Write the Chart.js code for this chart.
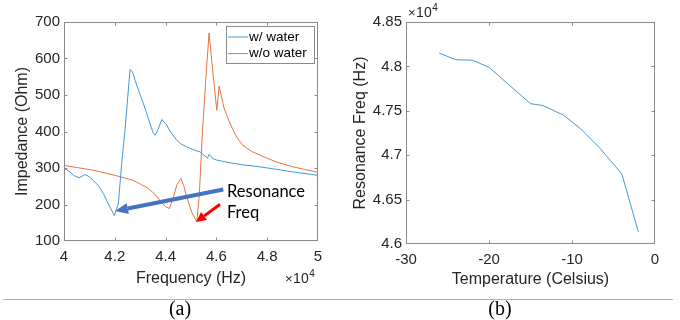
<!DOCTYPE html>
<html><head><meta charset="utf-8">
<script src="https://cdn.jsdelivr.net/npm/chart.js@4/dist/chart.umd.min.js"></script>
<style>
html,body{margin:0;padding:0;background:#fff;width:680px;height:320px;overflow:hidden;}
#c1{position:absolute;left:0;top:0;}
#c2{position:absolute;left:340px;top:0;}
#rule{position:absolute;left:3px;width:670px;top:299px;height:1px;background:#b4b4b4;}
.cap{position:absolute;top:298px;font-family:"Liberation Serif","Times New Roman",serif;font-size:20px;line-height:20px;color:#000;width:60px;text-align:center;}
</style></head>
<body>
<canvas id="c1" width="340" height="300"></canvas>
<canvas id="c2" width="340" height="300"></canvas>
<div id="rule"></div>
<div class="cap" style="left:150px">(a)</div>
<div class="cap" style="left:470px">(b)</div>
<script>
const FONT = '"Liberation Sans", Arial, sans-serif';

// ---- (a) impedance vs frequency ----
const freqWater = [40000, 40200, 40370, 40600, 40820, 41000, 41150, 41350, 41550, 41700, 41810, 41980, 42140, 42270, 42400, 42600, 42700, 42800, 43000, 43120, 43300, 43520, 43590, 43700, 43850, 44050, 44200, 44440, 44600, 44830, 45100, 45360, 45650, 45720, 45850, 46000, 46400, 47000, 47720, 48400, 49030, 50000];
const zWater    = [298,   292,   280,   273,   282,   276,   266,   252,   230,   208,   193,   170,   202,   312,   403,   570,   563,   540,   500,   478,   440,   394,   390,   405,   433,   417,   398,   376,   366,   358,   350,   344,   327,   338,   326,   322,   316,   309,   303,   296,   289,   280];
const freqDry = [40000, 41150, 42000, 42730, 43300, 43580, 43780, 44000, 44150, 44310, 44450, 44600, 44700, 44830, 45030, 45230, 45330, 45450, 45580, 45710, 45860, 46016, 46107, 46200, 46300, 46410, 46500, 46650, 46800, 47000, 47200, 47400, 47720, 48380, 49030, 50000];
const zDry    = [307,   294,   280,   266,   245,   228,   211,   194,   189,   221,   255,   271,   255,   221,   179,   152,   230,   400,   540,   670,   563,   458,   524,   495,   465,   444,   428,   405,   385,   365,   354,   345,   335,   316,   303,   288];
const seriesNames = ['w/ water', 'w/o water'];
const freqTickLabels = ['4', '4.2', '4.4', '4.6', '4.8', '5'];
const zTickLabels = ['100', '200', '300', '400', '500', '600', '700'];

// annotation anchors in data units (Hz, Ohm)
const blueArrow = {from: [46272, 241], to: [42008, 182]};
const redArrow  = {from: [46142, 200.5], to: [45197, 152]};
const noteText  = [{t: 'Resonance', at: [46417, 234]}, {t: 'Freq', at: [46417, 177]}];

// ---- (b) resonance freq vs temperature ----
const tempC   = [-26,   -24,   -22,   -20,   -15,   -13.5, -11,   -9,    -6.7,  -4,    -2];
const resFreq = [48150, 48075, 48070, 47990, 47580, 47560, 47450, 47300, 47085, 46790, 46135];
const tempTickLabels = ['-30', '-20', '-10', '0'];
const rfTickLabels = ['4.6', '4.65', '4.7', '4.75', '4.8', '4.85'];

const pts = (xs, ys) => xs.map((x, i) => ({x, y: ys[i]}));

function drawArrow(ctx, x1, y1, x2, y2, color, w, hl, hw) {
  const ang = Math.atan2(y2 - y1, x2 - x1);
  const bx = x2 - hl * Math.cos(ang), by = y2 - hl * Math.sin(ang);
  ctx.strokeStyle = color; ctx.fillStyle = color; ctx.lineWidth = w; ctx.lineCap = 'butt';
  ctx.beginPath(); ctx.moveTo(x1, y1); ctx.lineTo(bx, by); ctx.stroke();
  ctx.beginPath();
  ctx.moveTo(x2, y2);
  ctx.lineTo(bx + hw / 2 * Math.sin(ang), by - hw / 2 * Math.cos(ang));
  ctx.lineTo(bx - hw / 2 * Math.sin(ang), by + hw / 2 * Math.cos(ang));
  ctx.closePath(); ctx.fill();
}

const matPlugin = {
  id: 'mat',
  afterDatasetsDraw(chart, args, o) {
    const ctx = chart.ctx, xs = chart.scales.x, ys = chart.scales.y;
    ctx.save();
    if (o.arrows) {
      for (const ar of o.arrows) {
        drawArrow(ctx, xs.getPixelForValue(ar.from[0]), ys.getPixelForValue(ar.from[1]),
          xs.getPixelForValue(ar.to[0]), ys.getPixelForValue(ar.to[1]), ar.color, ar.w, ar.hl, ar.hw);
      }
    }
    if (o.notes) {
      ctx.font = '16.5px Lato, "Open Sans", sans-serif';
      ctx.fillStyle = '#000'; ctx.textAlign = 'left'; ctx.textBaseline = 'middle';
      for (const n of o.notes) ctx.fillText(n.t, xs.getPixelForValue(n.at[0]), ys.getPixelForValue(n.at[1]));
    }
    ctx.restore();
  },
  afterDraw(chart, args, o) {
    const ctx = chart.ctx, a = chart.chartArea, xs = chart.scales.x, ys = chart.scales.y;
    ctx.save();
    const L = Math.round(a.left) + 0.5, R = Math.round(a.right) - 0.5, T = Math.round(a.top) + 0.5, B = Math.round(a.bottom) - 0.5;
    ctx.strokeStyle = '#8a8a8a'; ctx.lineWidth = 1;
    ctx.strokeRect(L, T, R - L, B - T);
    ctx.beginPath();
    xs.ticks.forEach(t => {
      const p = Math.round(xs.getPixelForValue(t.value)) + 0.5;
      if (p < L + 2 || p > R - 2) return;
      ctx.moveTo(p, B); ctx.lineTo(p, B - 3);
      ctx.moveTo(p, T); ctx.lineTo(p, T + 3);
    });
    ys.ticks.forEach(t => {
      const p = Math.round(ys.getPixelForValue(t.value)) + 0.5;
      if (p < T + 2 || p > B - 2) return;
      ctx.moveTo(L, p); ctx.lineTo(L + 3, p);
      ctx.moveTo(R, p); ctx.lineTo(R - 3, p);
    });
    ctx.stroke();
    if (o.exp) {
      ctx.fillStyle = '#262626'; ctx.textAlign = 'left'; ctx.textBaseline = 'middle';
      ctx.font = '13px ' + FONT;
      let x = o.exp.x;
      ctx.fillText('\u00d7', x, o.exp.y); x += ctx.measureText('\u00d7').width + 0.5;
      ctx.font = '14px ' + FONT;
      ctx.fillText('10', x, o.exp.y); x += ctx.measureText('10').width + 0.5;
      ctx.font = '10px ' + FONT;
      ctx.fillText('4', x, o.exp.y - 5);
    }
    if (o.legend) {
      const g = o.legend;
      ctx.fillStyle = '#fff'; ctx.fillRect(g.x, g.y, g.w, g.h);
      ctx.strokeStyle = '#8a8a8a'; ctx.strokeRect(g.x + 0.5, g.y + 0.5, g.w, g.h);
      ctx.font = '13.5px ' + FONT; ctx.textAlign = 'left'; ctx.textBaseline = 'middle';
      chart.data.datasets.forEach((d, i) => {
        const yy = g.y + 11 + i * 16.6;
        ctx.strokeStyle = d.borderColor; ctx.lineWidth = 1;
        ctx.beginPath(); ctx.moveTo(g.x + 2, yy); ctx.lineTo(g.x + 22, yy); ctx.stroke();
        ctx.fillStyle = '#000'; ctx.fillText(d.label, g.x + 23, yy);
      });
    }
    ctx.restore();
  }
};

function axis(min, max, step, labels, title, titlePad, size, isX) {
  return {
    type: 'linear', min, max,
    ticks: {stepSize: step, autoSkip: false, maxRotation: 0, padding: isX ? 7 : 4,
      color: '#262626', font: {family: FONT, size: 15}, callback: (v, i) => labels[i]},
    grid: {display: false, drawTicks: false}, border: {display: false},
    title: {display: true, text: title, color: '#262626', font: {family: FONT, size: 16},
      padding: isX ? {top: 0, bottom: titlePad} : {top: titlePad, bottom: 0}},
    afterFit: s => { if (isX) s.height = size; else s.width = size; }
  };
}

const common = {responsive: false, animation: false, devicePixelRatio: 1,
  elements: {point: {radius: 0}, line: {tension: 0, borderWidth: 1}}};

new Chart(document.getElementById('c1'), {
  type: 'line',
  data: {datasets: [
    {label: seriesNames[0], data: pts(freqWater, zWater), borderColor: '#4596d6', fill: false},
    {label: seriesNames[1], data: pts(freqDry, zDry), borderColor: '#e2743f', fill: false}
  ]},
  options: Object.assign({}, common, {
    layout: {padding: {left: 0, top: 22, right: 22, bottom: 0}},
    scales: {
      x: axis(40000, 50000, 2000, freqTickLabels, 'Frequency (Hz)', 12, 59, true),
      y: axis(100, 700, 100, zTickLabels, 'Impedance (Ohm)', 13.4, 64, false)
    },
    plugins: {legend: {display: false}, tooltip: {enabled: false},
      mat: {
        exp: {x: 285, y: 279.5},
        legend: {x: 226, y: 26, w: 88, h: 37},
        arrows: [
          Object.assign({color: '#4472C4', w: 4, hl: 13, hw: 11}, blueArrow),
          Object.assign({color: '#FF0000', w: 3, hl: 10, hw: 10}, redArrow)
        ],
        notes: noteText
      }}
  }),
  plugins: [matPlugin]
});

new Chart(document.getElementById('c2'), {
  type: 'line',
  data: {datasets: [
    {label: 'Resonance', data: pts(tempC, resFreq), borderColor: '#4596d6', fill: false}
  ]},
  options: Object.assign({}, common, {
    layout: {padding: {left: 0, top: 22, right: 25, bottom: 0}},
    scales: {
      x: axis(-30, 0, 10, tempTickLabels, 'Temperature (Celsius)', 10.5, 56, true),
      y: axis(46000, 48500, 500, rfTickLabels, 'Resonance Freq (Hz)', 11.4, 66, false)
    },
    plugins: {legend: {display: false}, tooltip: {enabled: false},
      mat: {exp: {x: 68, y: 13.5}}}
  }),
  plugins: [matPlugin]
});
</script>
</body></html>
